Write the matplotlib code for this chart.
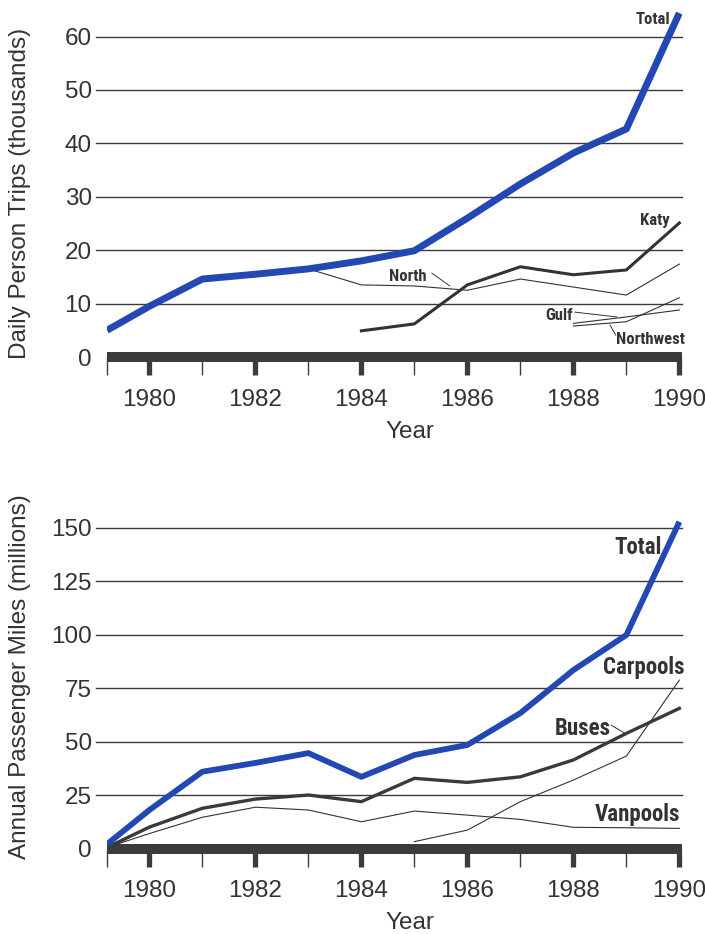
import matplotlib
matplotlib.use("Agg")
import matplotlib.pyplot as plt
from matplotlib import font_manager
import numpy as np

# --- data ---
years = [1979.2, 1980, 1981, 1982, 1983, 1984, 1985, 1986, 1987, 1988, 1989, 1990]

# top: daily person trips (thousands)
trips_total = [5.0, 9.5, 14.6, 15.5, 16.5, 18.0, 19.9, 26.0, 32.4, 38.2, 42.7, 64.4]
north_years = [1983, 1984, 1985, 1986, 1987, 1988, 1989, 1990]
trips_north = [16.5, 13.5, 13.3, 12.5, 14.6, 13.1, 11.6, 17.4]
katy_years = [1984, 1985, 1986, 1987, 1988, 1989, 1990]
trips_katy = [4.9, 6.2, 13.5, 16.9, 15.4, 16.3, 25.1]
gulf_years = [1988, 1989, 1990]
trips_gulf = [6.3, 7.5, 8.8]
trips_northwest = [5.8, 6.6, 11.1]

# bottom: annual passenger miles (millions)
miles_total = [2.0, 18.0, 35.9, 40.0, 44.6, 33.5, 43.7, 48.4, 63.3, 83.4, 99.8, 152.7]
miles_buses = [0.5, 10.0, 18.8, 23.1, 25.0, 21.9, 32.8, 30.9, 33.5, 41.4, 53.8, 65.5]
miles_vanpools = [0.5, 7.0, 14.6, 19.3, 18.0, 12.5, 17.5, 15.6, 13.6, 9.9, 9.7, 9.4]
carpool_years = [1985, 1986, 1987, 1988, 1989, 1990]
miles_carpools = [3.2, 8.6, 21.9, 32.0, 43.2, 78.7]

top_yticks = [0, 10, 20, 30, 40, 50, 60]
bot_yticks = [0, 25, 50, 75, 100, 125, 150]
major_years = [1980, 1982, 1984, 1986, 1988, 1990]
minor_years = [1979.2, 1981, 1983, 1985, 1987, 1989]

BLUE = "#2347b3"
DARK = "#333333"
GRID = "#3a3a3a"

names = {f.name for f in font_manager.fontManager.ttflist}
base_font = "Liberation Sans" if "Liberation Sans" in names else "DejaVu Sans"
narrow = "DejaVu Sans"
for cand in ["Liberation Sans Narrow", "Roboto Condensed", "Open Sans Condensed",
             "DejaVu Sans Condensed"]:
    if cand in names:
        narrow = cand
        break
plt.rcParams["font.family"] = [base_font, "DejaVu Sans"]

W, H = 705, 934
fig = plt.figure(figsize=(W / 100, H / 100), dpi=100)


def setup(ax, yticks, ylabel, ylabel_y, xlabel_y):
    ax.set_xlim(1979.2, 1990.05)
    for s in ["top", "right", "left"]:
        ax.spines[s].set_visible(False)
    ax.spines["bottom"].set_linewidth(7.2)
    ax.spines["bottom"].set_color("#3c3c3c")
    ax.spines["bottom"].set_capstyle("butt")
    ax.set_xticks(major_years)
    ax.set_xticks(minor_years, minor=True)
    ax.tick_params(axis="x", which="major", length=13, width=3.8, color="#3c3c3c",
                   labelsize=17.5, labelcolor=DARK, pad=10)
    ax.tick_params(axis="x", which="minor", length=13, width=1.0, color="#3c3c3c")
    ax.set_yticks(yticks)
    ax.tick_params(axis="y", length=0, labelsize=17.5, labelcolor=DARK, pad=11)
    for v in yticks[1:]:
        ax.axhline(v, xmin=-0.019, xmax=1.0, color=GRID, lw=1.0, clip_on=False, zorder=1)
    ax.set_ylabel(ylabel, fontsize=17.5, color=DARK)
    ax.yaxis.label.set_va("center")
    ax.yaxis.set_label_coords(-0.151, ylabel_y)
    ax.set_xlabel("Year", fontsize=17.5, color=DARK)
    ax.xaxis.label.set_va("center")
    ax.xaxis.set_label_coords(0.527, xlabel_y)


def lab(ax, txt, x, y, size):
    ax.text(x, y, txt, fontsize=size, fontweight="bold", fontstretch="condensed",
            family=[narrow, "DejaVu Sans"], color=DARK, ha="center", va="center")


def leader(ax, x0, y0, x1, y1):
    ax.plot([x0, x1], [y0, y1], color=DARK, lw=0.7)


# ---------- top chart ----------
ax1 = fig.add_axes([107 / W, 1 - 357 / H, 575 / W, 357 / H])
ax1.set_ylim(0, 66.85)
setup(ax1, top_yticks, "Daily Person Trips (thousands)", 0.459, -0.21)

ax1.plot(north_years, trips_north, color=DARK, lw=0.8, zorder=3)
ax1.plot(gulf_years, trips_gulf, color=DARK, lw=0.8, zorder=3)
ax1.plot(gulf_years, trips_northwest, color=DARK, lw=0.8, zorder=3)
ax1.plot(katy_years, trips_katy, color=DARK, lw=2.2, zorder=4)
ax1.plot(years, trips_total, color=BLUE, lw=5, zorder=5, solid_capstyle="butt")

lab(ax1, "Total", 1989.5, 63.2, 12)
lab(ax1, "Katy", 1989.54, 25.6, 12)
lab(ax1, "North", 1984.88, 15.1, 12)
leader(ax1, 1985.33, 15.7, 1985.67, 13.3)
lab(ax1, "Gulf", 1987.73, 7.85, 12)
leader(ax1, 1988.03, 8.4, 1988.82, 7.5)
lab(ax1, "Northwest", 1989.45, 3.2, 12)
leader(ax1, 1988.69, 6.0, 1988.8, 4.1)

# ---------- bottom chart ----------
ax2 = fig.add_axes([107 / W, 1 - 848.5 / H, 575 / W, 348.5 / H])
ax2.set_ylim(0, 162.9)
setup(ax2, bot_yticks, "Annual Passenger Miles (millions)", 0.492, -0.214)

ax2.plot(years, miles_vanpools, color=DARK, lw=0.8, zorder=3)
ax2.plot(carpool_years, miles_carpools, color=DARK, lw=0.8, zorder=3)
ax2.plot(years, miles_buses, color="#3a3a3a", lw=2.4, zorder=4)
ax2.plot(years, miles_total, color=BLUE, lw=4.2, zorder=5, solid_capstyle="butt")

lab(ax2, "Total", 1989.22, 140.5, 16.5)
lab(ax2, "Carpools", 1989.33, 84.4, 16.5)
lab(ax2, "Buses", 1988.17, 56.3, 16.5)
leader(ax2, 1988.71, 57.7, 1988.99, 53.6)
lab(ax2, "Vanpools", 1989.22, 15.7, 16.5)

fig.savefig("out.png", dpi=100)
